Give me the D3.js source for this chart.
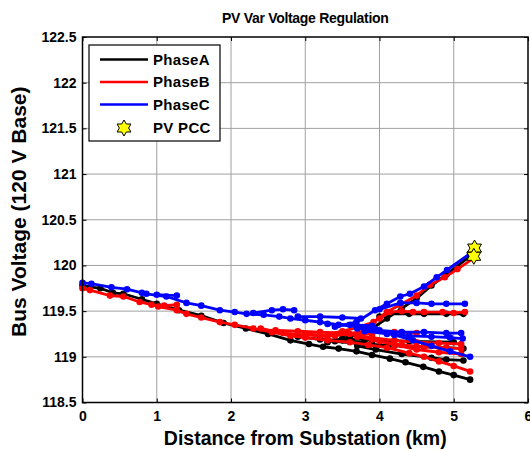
<!DOCTYPE html>
<html><head><meta charset="utf-8">
<script src="https://cdn.jsdelivr.net/npm/d3@7"></script>
<style>
body{margin:0;background:#fff;}
text{font-family:Arial,"Liberation Sans",sans-serif;font-weight:bold;fill:#000;}
</style></head>
<body><svg id="c" width="530" height="452"></svg>
<script>
// ---- data ----
const xTicks = [0,1,2,3,4,5,6];
const yTicks = [118.5,119,119.5,120,120.5,121,121.5,122,122.5];
const yTickLabels = ["118.5","119","119.5","120","120.5","121","121.5","122","122.5"];
const legendLabels = ["PhaseA","PhaseB","PhaseC","PV PCC"];

// Phase A (black) branches: [km, V]
const phaseA = [
  [[0,119.78],[0.24,119.75],[0.41,119.7],[0.55,119.69],[0.8,119.63],[1.0,119.58],[1.3,119.51],[1.6,119.45],[1.9,119.37],[2.2,119.31],[2.5,119.25],[2.8,119.18],[3.05,119.14],[3.24,119.11],[3.45,119.09],[3.69,119.06],[3.9,119.02],[4.14,118.98],[4.35,118.94],[4.59,118.89],[4.8,118.84],[5.0,118.8],[5.22,118.75]],
  [[3.3,119.16],[3.6,119.22],[3.9,119.31],[4.1,119.42],[4.3,119.53],[4.5,119.64],[4.7,119.78],[4.9,119.9],[5.25,120.12]],
  [[4.0,119.44],[4.14,119.47],[4.4,119.47],[4.6,119.47],[4.9,119.47],[5.13,119.47]],
  [[3.7,119.12],[3.95,119.08],[4.3,119.03],[4.7,118.99],[4.9,118.97],[5.13,118.96]],
  [[3.4,119.17],[3.8,119.14],[4.2,119.12],[4.6,119.11],[4.9,119.1],[5.13,119.09]],
  [[2.9,119.22],[3.2,119.19],[3.5,119.18],[3.9,119.15]],
  [[3.5,119.2],[3.8,119.19],[4.4,119.17],[5.0,119.16]]
];
// Phase B (red) branches
const phaseB = [
  [[0,119.75],[0.1,119.73],[0.37,119.67],[0.55,119.66],[0.77,119.6],[0.93,119.57],[1.02,119.55],[1.27,119.51],[1.4,119.47],[1.6,119.43],[1.85,119.38],[2.05,119.35],[2.3,119.31],[2.55,119.27],[2.8,119.23],[3.0,119.21],[3.3,119.18],[3.6,119.16],[3.85,119.13],[4.1,119.1],[4.4,119.04],[4.6,119.0],[4.8,118.95],[5.0,118.9],[5.22,118.84]],
  [[1.1,119.56],[1.27,119.57]],
  [[3.2,119.23],[3.5,119.28],[3.7,119.32],[3.92,119.38],[4.1,119.49],[4.28,119.57],[4.5,119.67],[4.68,119.79],[4.88,119.87],[5.05,119.96],[5.27,120.08]],
  [[4.0,119.42],[4.14,119.49],[4.3,119.5],[4.45,119.49],[4.6,119.49],[4.85,119.49],[5.0,119.48],[5.15,119.49]],
  [[3.6,119.25],[3.9,119.21],[4.2,119.18],[4.5,119.16],[4.8,119.15],[5.1,119.14]],
  [[3.7,119.22],[4.0,119.17],[4.3,119.13],[4.6,119.11],[4.9,119.1],[5.1,119.09]],
  [[3.9,119.19],[4.2,119.13],[4.5,119.08],[4.8,119.05],[5.1,119.03]],
  [[2.6,119.29],[2.9,119.28],[3.2,119.27],[3.55,119.26],[3.9,119.25]],
  [[2.4,119.31],[2.7,119.26],[3.0,119.24],[3.3,119.22]],
  [[3.0,119.25],[3.4,119.23],[3.8,119.28],[4.2,119.27],[4.5,119.26]]
];
// Phase C (blue) branches
const phaseC = [
  [[0,119.81],[0.12,119.8],[0.39,119.76],[0.6,119.74],[0.8,119.7],[0.86,119.69],[1.13,119.66],[1.4,119.59],[1.6,119.56],[1.85,119.51],[2.05,119.49],[2.21,119.47],[2.44,119.46],[2.65,119.44],[2.8,119.42],[3.0,119.4],[3.2,119.38],[3.45,119.35],[3.7,119.33],[3.95,119.3],[4.2,119.24],[4.45,119.18],[4.7,119.12],[4.95,119.06],[5.22,119.0]],
  [[1.0,119.68],[1.27,119.67]],
  [[2.3,119.48],[2.55,119.51],[2.7,119.52],[2.85,119.51]],
  [[2.9,119.44],[3.2,119.44],[3.5,119.43],[3.75,119.42]],
  [[3.4,119.33],[3.69,119.38],[3.94,119.51],[4.1,119.58],[4.28,119.66],[4.41,119.69],[4.6,119.77],[4.77,119.87],[4.91,119.95],[5.22,120.13]],
  [[4.0,119.52],[4.28,119.59],[4.5,119.59],[4.7,119.58],[4.9,119.58],[5.15,119.58]],
  [[3.7,119.31],[4.0,119.29],[4.3,119.27],[4.6,119.27],[4.9,119.26],[5.1,119.26]],
  [[3.8,119.28],[4.1,119.25],[4.4,119.23],[4.7,119.22],[4.95,119.21],[5.12,119.2]],
  [[3.3,119.36],[3.6,119.35],[3.9,119.34]]
];
// PV PCC markers
const pvKm = [5.28, 5.27];
const pvV = [120.19, 120.1];

// ---- layout ----
const svg = d3.select("#c");
const L = 82.5, R = 528, T = 37, B = 402.5;
const x = d3.scaleLinear().domain([0,6]).range([L,R]);
const y = d3.scaleLinear().domain([118.5,122.5]).range([B,T]);

// grid
const g = svg.append("g");
g.selectAll(".vg").data(xTicks.slice(1,-1)).join("line")
  .attr("x1",d=>x(d)).attr("x2",d=>x(d)).attr("y1",T).attr("y2",B)
  .attr("stroke","#a0a0a0").attr("stroke-width",1);
g.selectAll(".hg").data(yTicks.slice(1,-1)).join("line")
  .attr("y1",d=>y(d)).attr("y2",d=>y(d)).attr("x1",L).attr("x2",R)
  .attr("stroke","#a0a0a0").attr("stroke-width",1);

// axes with inward ticks
const ax = d3.axisBottom(x).tickValues(xTicks).tickSize(-4).tickPadding(9).tickFormat(d3.format("d"));
const ay = d3.axisLeft(y).tickValues(yTicks).tickSize(-4).tickPadding(6).tickFormat((d,i)=>yTickLabels[i]);
const gx = svg.append("g").attr("transform",`translate(0,${B})`).call(ax);
const gy = svg.append("g").attr("transform",`translate(${L},0)`).call(ay);
const gx2 = svg.append("g").attr("transform",`translate(0,${T})`).call(d3.axisTop(x).tickValues(xTicks).tickSize(-4).tickFormat(""));
const gy2 = svg.append("g").attr("transform",`translate(${R},0)`).call(d3.axisRight(y).tickValues(yTicks).tickSize(-4).tickFormat(""));
[gx,gy,gx2,gy2].forEach(a=>{a.select(".domain").remove();
  a.selectAll("text").style("font-size","14px").style("font-weight","bold").style("font-family","Arial, 'Liberation Sans', sans-serif");
  a.selectAll(".tick line").attr("stroke","#000");});

// data lines
const line = d3.line().x(d=>x(d[0])).y(d=>y(d[1]));
const plotG = svg.append("g");
function drawPhase(branches,color){
  const pg = plotG.append("g");
  branches.forEach(br=>{
    pg.append("path").attr("d",line(br)).attr("fill","none").attr("stroke",color).attr("stroke-width",2.8);
    pg.selectAll(null).data(br).join("circle").attr("cx",d=>x(d[0])).attr("cy",d=>y(d[1])).attr("r",3.3).attr("fill",color);
  });
}
drawPhase(phaseA,"#000");
drawPhase(phaseB,"#ff0000");
drawPhase(phaseC,"#0000ff");

// hexagram
function hexagram(cx,cy,Ro){
  const ri = Ro/Math.sqrt(3); const pts=[];
  for(let k=0;k<12;k++){const a=-Math.PI/2+k*Math.PI/6; const r=k%2===0?Ro:ri; pts.push([cx+r*Math.cos(a),cy+r*Math.sin(a)]);}
  return "M"+pts.map(p=>p.join(",")).join("L")+"Z";
}
pvKm.forEach((k,i)=>{
  svg.append("path").attr("d",hexagram(x(k),y(pvV[i]),8)).attr("fill","#ffff00").attr("stroke","#000").attr("stroke-width",1);
});

// frame
svg.append("rect").attr("x",L).attr("y",T).attr("width",R-L).attr("height",B-T).attr("fill","none").attr("stroke","#000").attr("stroke-width",1.5);

// legend
const lg = svg.append("g");
lg.append("rect").attr("x",89).attr("y",45).attr("width",131).attr("height",96).attr("fill","#fff").attr("stroke","#000").attr("stroke-width",1.2);
const colors = ["#000","#ff0000","#0000ff"];
const rowsY = [59.5,82,104.5,128];
legendLabels.forEach((lab,i)=>{
  if(i<3){
    lg.append("line").attr("x1",100).attr("x2",148).attr("y1",rowsY[i]).attr("y2",rowsY[i]).attr("stroke",colors[i]).attr("stroke-width",2.5);
  } else {
    lg.append("path").attr("d",hexagram(124,rowsY[i],8)).attr("fill","#ffff00").attr("stroke","#000").attr("stroke-width",1);
  }
  lg.append("text").attr("x",153).attr("y",rowsY[i]).attr("dy","0.36em").style("font-size","15px").style("letter-spacing","0.3px").text(lab);
});

// titles
svg.append("text").attr("x",(L+R)/2).attr("y",23).attr("text-anchor","middle").style("font-size","14px").style("letter-spacing","-0.3px").text("PV Var Voltage Regulation");
svg.append("text").attr("x",(L+R)/2).attr("y",445).attr("text-anchor","middle").style("font-size","19.5px").text("Distance from Substation (km)");
svg.append("text").attr("transform",`translate(26,${(T+B)/2 - 8}) rotate(-90)`).attr("text-anchor","middle").style("font-size","21px").text("Bus Voltage (120 V Base)");
</script></body></html>
